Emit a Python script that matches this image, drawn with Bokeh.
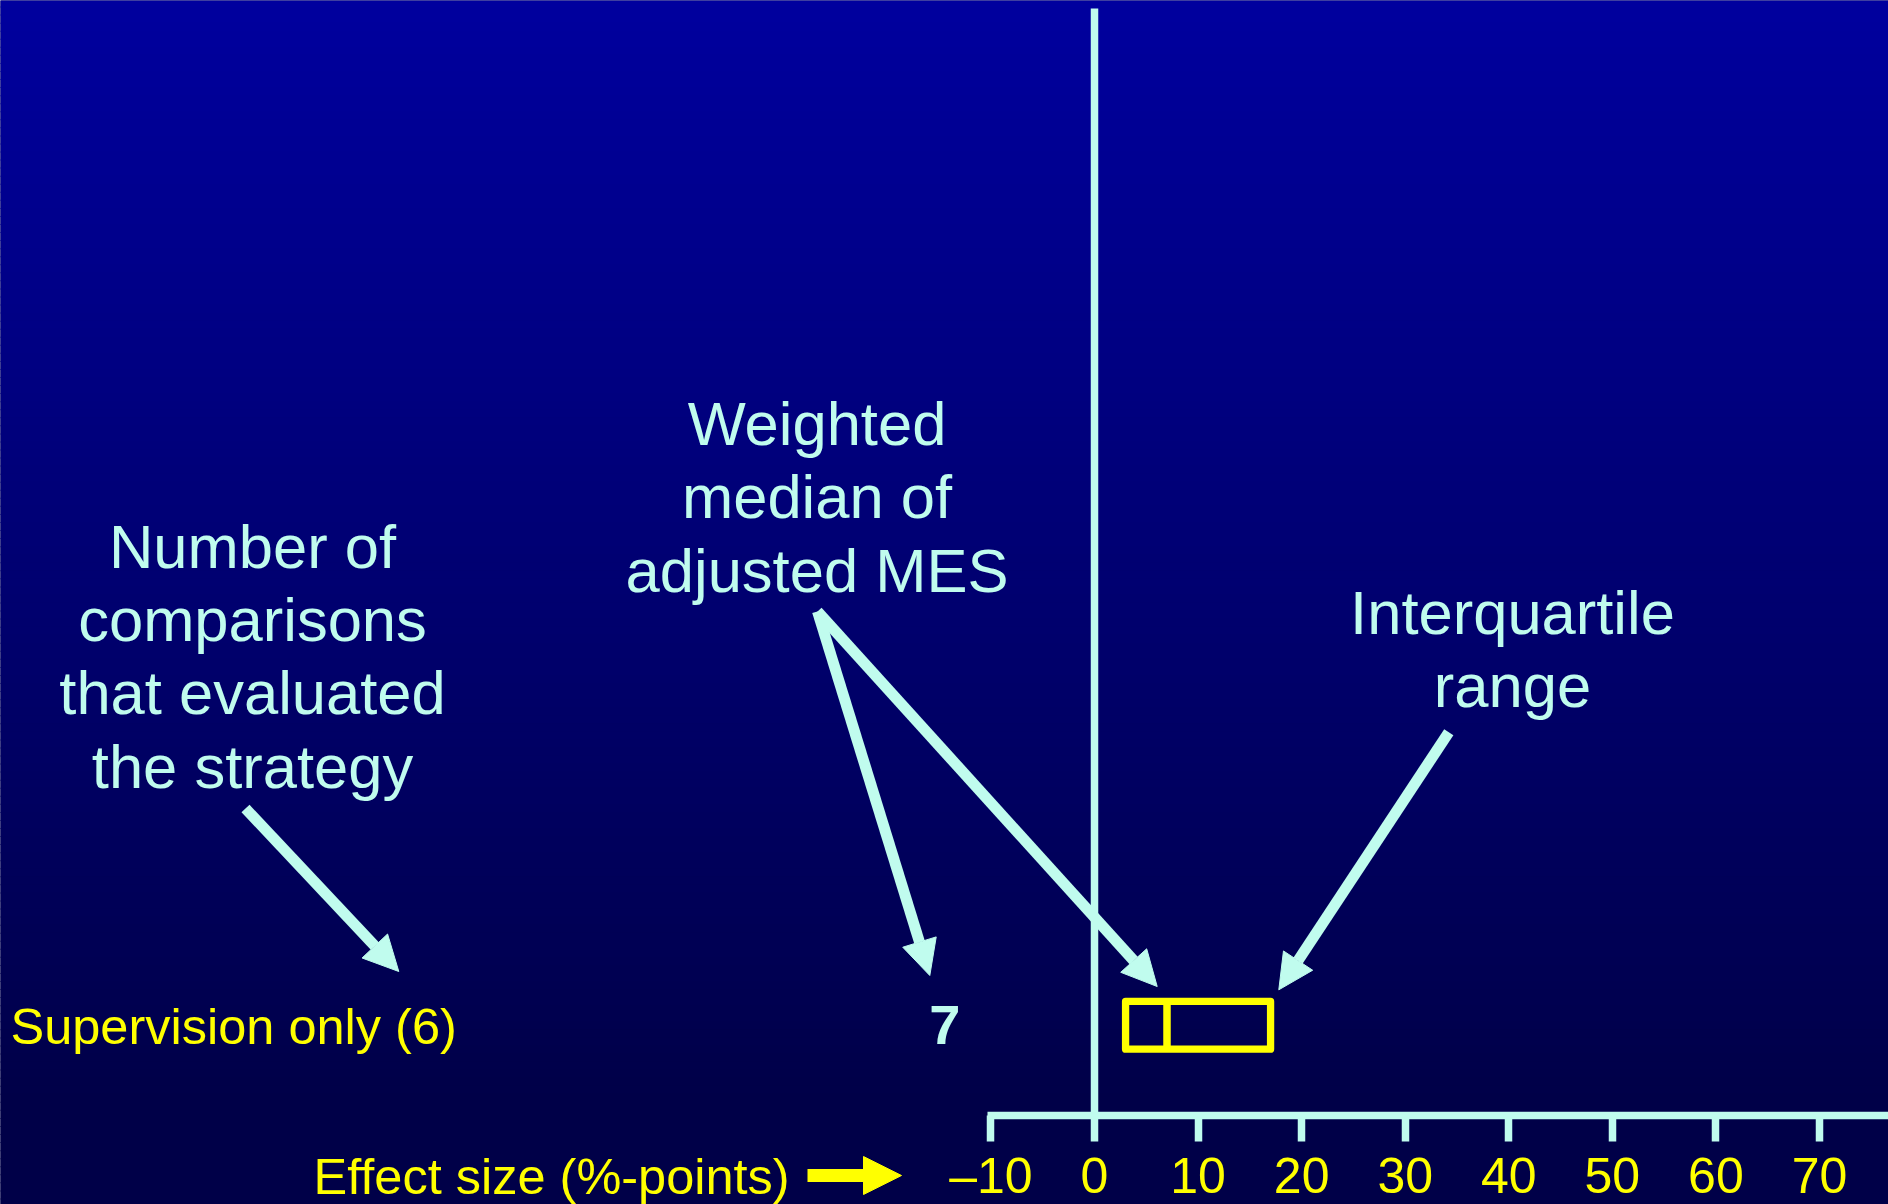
import numpy as np
from bokeh.plotting import figure
from bokeh.models import (Range1d, LinearAxis, FixedTicker, Arrow, NormalHead,
                          Label, ColumnDataSource)
from bokeh.core.properties import value
from bokeh.embed import file_html
from bokeh.resources import INLINE

# ---------------- data ----------------
strategies = ["Supervision only"]
n_comparisons = [6]
weighted_median = [7]
q1 = [3]
q3 = [17]
x_ticks = [-10, 0, 10, 20, 30, 40, 50, 60, 70]
tick_labels = ["\u201310", "0", "10", "20", "30", "40", "50", "60", "70"]
axis_title = "Effect size (%-points)"
note_count = ["Number of", "comparisons", "that evaluated", "the strategy"]
note_median = ["Weighted", "median of", "adjusted MES"]
note_iqr = ["Interquartile", "range"]

# ---------------- style / layout ----------------
CYAN = "#c0fcee"
YELLOW = "#ffff00"
FONT = "Liberation Sans"
TOP_RGB = (0, 0, 158)
BOT_RGB = (0, 0, 72)

PX0 = 1094.0      # pixel of x = 0
PXU = 10.357      # pixels per unit


def xv(px):
    return (px - PX0) / PXU


W, H = 1888, 1204
AXIS_Y = 1115

p = figure(frame_width=W, frame_height=H,
           x_range=Range1d(xv(0), xv(W)), y_range=Range1d(H, 0),
           x_axis_location=None, y_axis_location=None,
           output_backend="svg", toolbar_location=None, min_border=0)
p.outline_line_color = None
p.grid.visible = False
p.border_fill_color = "#%02x%02x%02x" % BOT_RGB
p.background_fill_color = "#%02x%02x%02x" % BOT_RGB

# gradient background bands
nb = 150
edges = np.linspace(-2, H + 2, nb + 1)
cols = []
for i in range(nb):
    yc = 0.5 * (edges[i] + edges[i + 1])
    t = min(max(yc / 1100.0, 0), 1)
    c = tuple(int(round(TOP_RGB[k] + (BOT_RGB[k] - TOP_RGB[k]) * t)) for k in range(3))
    cols.append("#%02x%02x%02x" % c)
p.quad(left=xv(-10), right=xv(1910), top=edges[:-1], bottom=edges[1:] + 1.0,
       fill_color=cols, line_color=None)

# x axis drawn inside the frame at a fixed location
xaxis = LinearAxis(ticker=FixedTicker(ticks=x_ticks), bounds=(xv(987), xv(1910)),
                   fixed_location=AXIS_Y,
                   axis_line_color=CYAN, axis_line_width=7.5,
                   major_tick_line_color=CYAN, major_tick_line_width=7.5,
                   major_tick_out=26, major_tick_in=0,
                   minor_tick_out=0, minor_tick_in=0,
                   major_label_text_color=YELLOW,
                   major_label_text_font=FONT,
                   major_label_text_font_size="50px",
                   major_label_standoff=6,
                   major_label_overrides={t: l for t, l in zip(x_ticks, tick_labels)})
p.add_layout(xaxis, "below")

# zero line
p.segment(x0=[0], y0=[8], x1=[0], y1=[AXIS_Y], line_color=CYAN, line_width=7.5)

# box (IQR) with weighted median
ROW_Y = 1024.8
HALF = 23.9
src = ColumnDataSource(dict(q1=q1, q3=q3, med=weighted_median,
                            y=[ROW_Y], top=[ROW_Y - HALF], bot=[ROW_Y + HALF],
                            lab=[f"{s} ({n})" for s, n in zip(strategies, n_comparisons)],
                            medtxt=[str(m) for m in weighted_median]))
p.quad(left="q1", right="q3", top="top", bottom="bot", source=src,
       fill_color=None, line_color=YELLOW, line_width=7.3, line_join="round")
p.segment(x0="med", y0="top", x1="med", y1="bot", source=src,
          line_color=YELLOW, line_width=7.5)

# row label and weighted median value (anchored at their vertical middle)
p.text(x=xv(10), y=1025.8, text="lab", source=src, text_color=YELLOW,
       text_font=value(FONT), text_font_size="50.5px",
       text_align="left", text_baseline="middle")
p.text(x=xv(944.3), y=1024.9, text="medtxt", source=src, text_color=CYAN,
       text_font=value(FONT), text_font_size="56px", text_font_style="bold",
       text_align="center", text_baseline="middle")


# annotation texts
def note(lines, cx, mid0, step=73.3):
    p.text(x=[xv(cx)] * len(lines), y=[mid0 + i * step for i in range(len(lines))],
           text=lines, text_color=CYAN, text_font=value(FONT), text_font_size="61.5px",
           text_align="center", text_baseline="middle")


note(note_count, 252, 545.6)
note(note_median, 816.5, 422.9)
note(note_iqr, 1512, 611.5)


# arrows
def arrow(x0, y0, x1, y1, color=CYAN, lw=11, size=35):
    p.add_layout(Arrow(x_start=xv(x0), y_start=y0, x_end=xv(x1), y_end=y1,
                       line_color=color, line_width=lw,
                       end=NormalHead(size=size, fill_color=color, line_color=color,
                                      line_width=1)))


arrow(245, 808, 398.3, 971)
arrow(817, 611, 929.3, 975)
arrow(817, 611, 1156.7, 986)
arrow(1448.3, 731.7, 1278.3, 989.3)

# axis title with yellow arrow
p.add_layout(Label(x=xv(313), y=1176.0, text=axis_title, text_color=YELLOW,
                   text_font=FONT, text_font_size="50.5px",
                   text_align="left", text_baseline="middle"))
arrow(807, 1175, 901, 1175, color=YELLOW, lw=13, size=38)

open("out.html", "w").write(file_html(p, INLINE))
